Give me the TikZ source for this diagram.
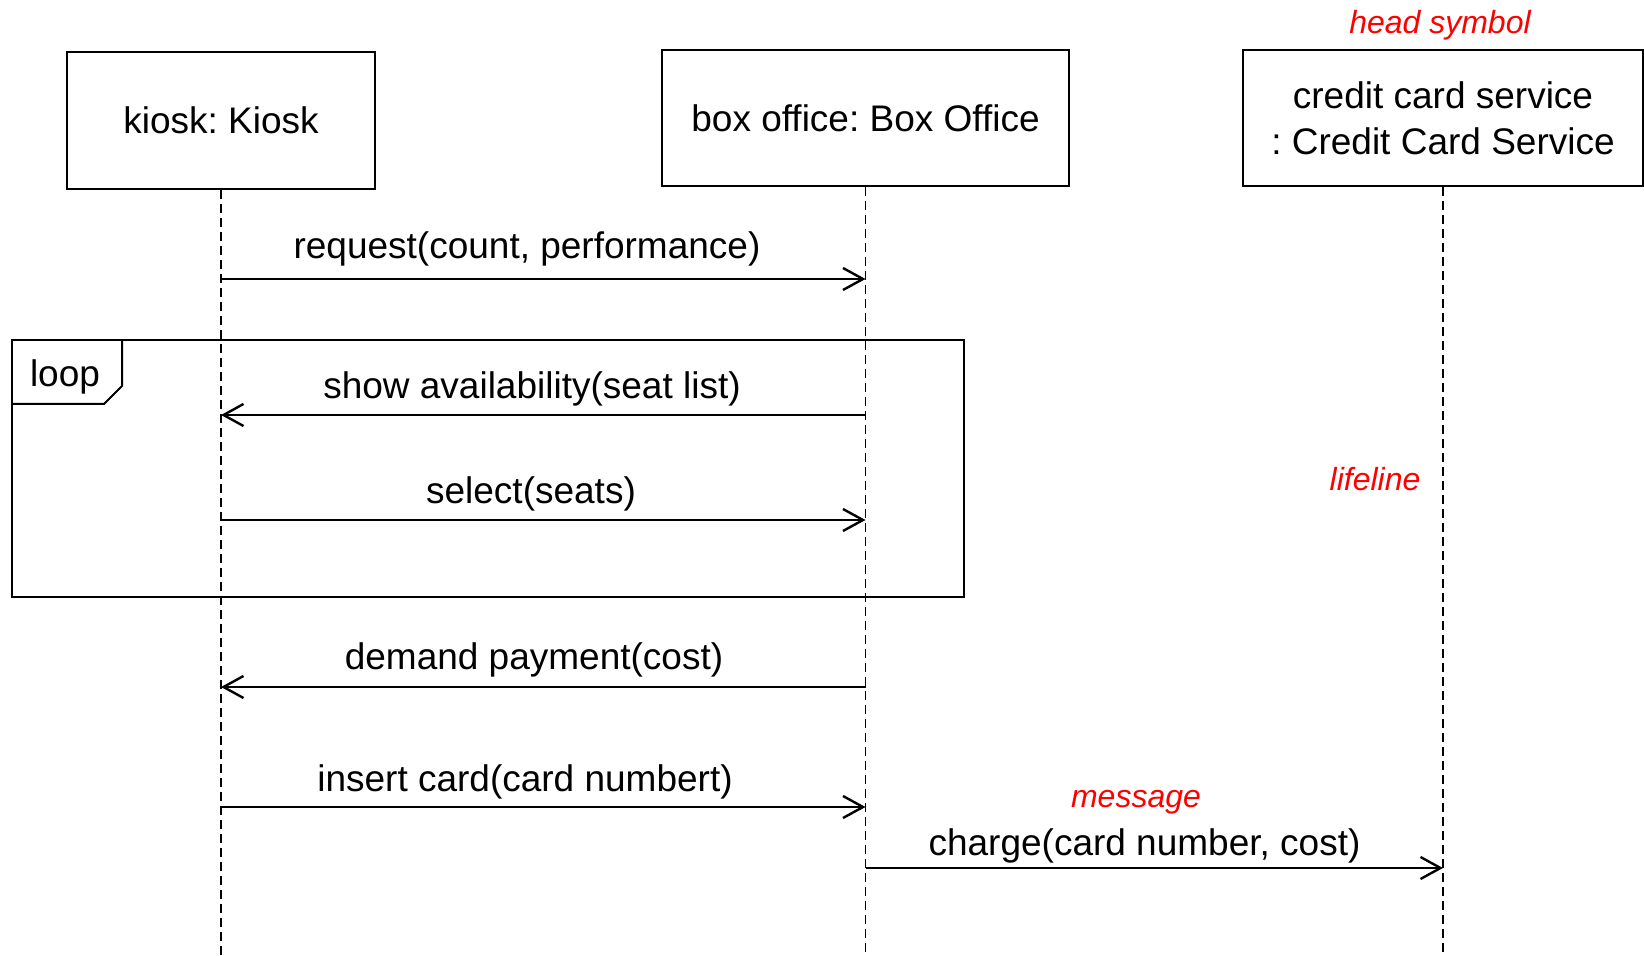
\documentclass[tikz,border=0pt]{standalone}
\usepackage{fontspec}
\setmainfont{Liberation Sans}
\usetikzlibrary{arrows.meta}
\frenchspacing
\begin{document}
\begin{tikzpicture}[x=0.5pt,y=-0.5pt,
  headbox/.style={draw,line width=1.1pt,inner sep=0pt,align=center,
    font=\fontsize{18.5}{23}\selectfont},
  life/.style={line width=0.9pt,dash pattern=on 4.5pt off 2.5pt},
  msgline/.style={line width=1.2pt,-{Straight Barb[length=10pt,width=11pt,line width=1.2pt]}},
  msgtext/.style={font=\fontsize{18.5}{23}\selectfont,inner sep=0pt},
  note/.style={font=\fontsize{16}{19}\selectfont\itshape,text=red,inner sep=0pt},
  frame/.style={line width=1pt}]
\useasboundingbox (0,0) rectangle (1644,956);

% participants
\node[headbox,minimum width=154pt,minimum height=68.5pt] (kiosk) at (221,120.5) {kiosk: Kiosk};
\node[headbox,minimum width=203.5pt,minimum height=68pt] (office) at (865.5,118) {box office: Box Office};
\node[headbox,minimum width=200pt,minimum height=68pt] (ccs) at (1443,118) {credit card service\\: Credit Card Service};

% lifelines
\coordinate (kend) at (kiosk.south |- 0,956);
\coordinate (oend) at (office.south |- 0,956);
\coordinate (cend) at (ccs.south |- 0,956);
\draw[life] (kiosk.south) -- (kend);
\draw[life] (office.south) -- (oend);
\draw[life] (ccs.south) -- (cend);

% loop combined fragment
\draw[frame] (12,340) rectangle (964,597);
\draw[frame] (12,404) -- (104,404) -- (122,386) -- (122,340);
\node[msgtext] (loop) at (65,377) {loop};

% message anchors
\coordinate (y1) at (0,279);
\coordinate (y2) at (0,415);
\coordinate (y3) at (0,520);
\coordinate (y4) at (0,687);
\coordinate (y5) at (0,807);
\coordinate (y6) at (0,868);

% messages
\draw[msgline] (kiosk.south |- y1) -- (office.south |- y1);
\node[msgtext] (m1) at (527,249) {request(count, performance)};

\draw[msgline] (office.south |- y2) -- (kiosk.south |- y2);
\node[msgtext] (m2) at (532,389) {show availability(seat list)};

\draw[msgline] (kiosk.south |- y3) -- (office.south |- y3);
\node[msgtext] (m3) at (531,494) {select(seats)};

\draw[msgline] (office.south |- y4) -- (kiosk.south |- y4);
\node[msgtext] (m4) at (534,660) {demand payment(cost)};

\draw[msgline] (kiosk.south |- y5) -- (office.south |- y5);
\node[msgtext] (m5) at (525,782) {insert card(card numbert)};

\draw[msgline] (office.south |- y6) -- (ccs.south |- y6);
\node[msgtext] (m6) at (1144.5,846) {charge(card number, cost)};

% annotations
\node[note] (hs) at (1440,25) {head symbol};
\node[note] (ll) at (1375,479) {lifeline};
\node[note] (ms) at (1136,802) {message};
\end{tikzpicture}
\end{document}
